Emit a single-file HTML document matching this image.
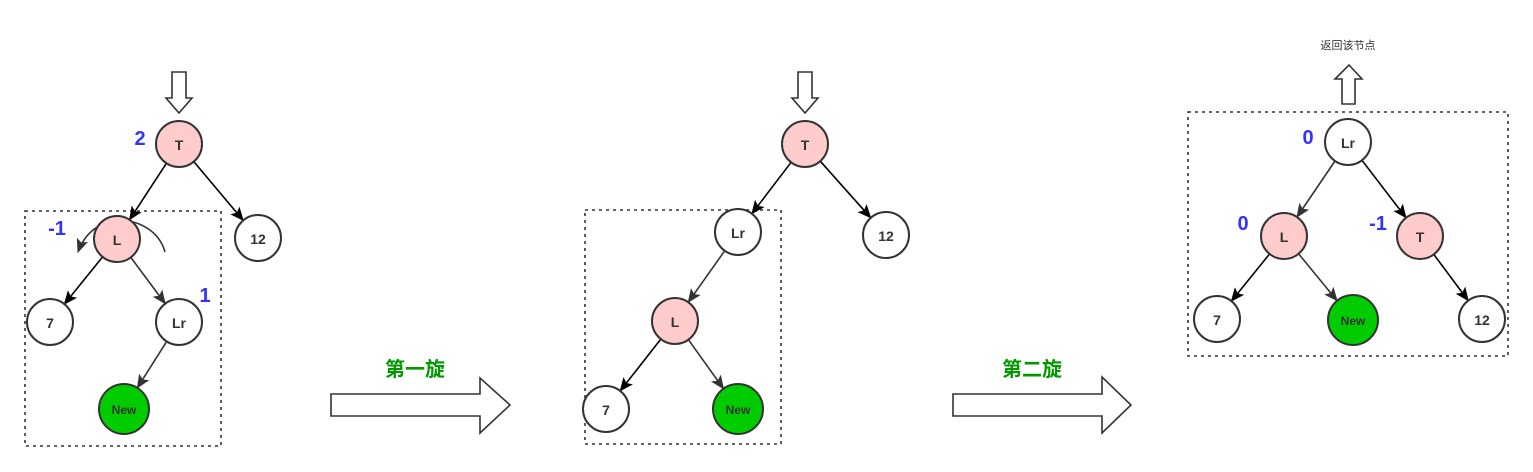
<!DOCTYPE html>
<html><head><meta charset="utf-8"><style>
html,body{margin:0;padding:0;background:#fff}
svg{display:block}
.n{stroke:#333;stroke-width:2}
.t{font-family:"Liberation Sans",sans-serif;font-weight:bold;font-size:14px;fill:#333;text-anchor:middle;dominant-baseline:central}
.b{font-family:"Liberation Sans",sans-serif;font-weight:bold;font-size:20px;fill:#3333ff;text-anchor:middle;dominant-baseline:central}
.g{font-family:"Liberation Sans","Noto Sans CJK SC",sans-serif;font-weight:bold;font-size:20px;fill:#009900;text-anchor:middle;dominant-baseline:central}
.e{stroke:#000;stroke-width:1.6;fill:none}
.e2{stroke:#333;stroke-width:1.6;fill:none}
.box{fill:none;stroke:#333;stroke-width:1.6;stroke-dasharray:3 4}
</style></head><body>
<svg width="1533" height="472" viewBox="0 0 1533 472">
<defs>
<marker id="a" markerWidth="14" markerHeight="12" refX="13" refY="6" orient="auto" markerUnits="userSpaceOnUse"><path d="M0,0 L14,6 L0,12 L3,6 z" fill="#000"/></marker>
<marker id="b" markerWidth="14" markerHeight="12" refX="13" refY="6" orient="auto" markerUnits="userSpaceOnUse"><path d="M0,0 L14,6 L0,12 L3,6 z" fill="#333"/></marker>
</defs>
<!-- Panel 1 -->
<rect class="box" x="25" y="211" width="196" height="235"/>
<path d="M172,72 h14 v26 h6 l-13,15 l-13,-15 h6 z" fill="#fff" stroke="#333" stroke-width="1.6"/>
<line class="e" x1="166.4" y1="163.3" x2="129.6" y2="219.7" marker-end="url(#a)"/>
<line class="e" x1="193.8" y1="161.6" x2="243.2" y2="220.4" marker-end="url(#a)"/>
<line class="e" x1="102.6" y1="256.9" x2="64.4" y2="304.1" marker-end="url(#a)"/>
<line class="e2" x1="130.8" y1="257.4" x2="165.2" y2="303.6" marker-end="url(#b)"/>
<line class="e2" x1="166.7" y1="341.4" x2="137.3" y2="387.9" marker-end="url(#b)"/>
<path d="M165,252 C155,215 95,205 78,252" class="e2" marker-end="url(#b)"/>
<circle class="n" cx="179" cy="144" r="23" fill="#ffcccc"/><text class="t" x="179" y="145">T</text>
<circle class="n" cx="258" cy="238" r="23" fill="#fff"/><text class="t" x="258" y="239">12</text>
<circle class="n" cx="117" cy="239" r="23" fill="#ffcccc"/><text class="t" x="117" y="240">L</text>
<circle class="n" cx="50" cy="322" r="23" fill="#fff"/><text class="t" x="50" y="323">7</text>
<circle class="n" cx="179" cy="322" r="23" fill="#fff"/><text class="t" x="179" y="323">Lr</text>
<circle class="n" cx="124" cy="409" r="25" fill="#00cc00"/><text class="t" x="124" y="410" style="font-size:12px">New</text>
<text class="b" x="140" y="139">2</text>
<text class="b" x="57" y="229">-1</text>
<text class="b" x="205" y="296">1</text>
<!-- arrow 1 -->
<text class="g" x="415" y="370">第一旋</text>
<path d="M331,394 H480 V378 L510,405 L480,433 V416 H331 z" fill="#fff" stroke="#333" stroke-width="1.6"/>
<!-- Panel 2 -->
<rect class="box" x="585" y="210" width="196" height="234"/>
<path d="M798,72 h14 v26 h6 l-13,15 l-13,-15 h6 z" fill="#fff" stroke="#333" stroke-width="1.6"/>
<line class="e" x1="791.1" y1="162.3" x2="751.9" y2="213.7" marker-end="url(#a)"/>
<line class="e" x1="820.3" y1="161.2" x2="870.7" y2="217.8" marker-end="url(#a)"/>
<line class="e2" x1="724.7" y1="250.8" x2="688.3" y2="302.2" marker-end="url(#b)"/>
<line class="e" x1="660.8" y1="339.1" x2="620.2" y2="390.9" marker-end="url(#a)"/>
<line class="e2" x1="688.4" y1="339.7" x2="723.5" y2="388.7" marker-end="url(#b)"/>
<circle class="n" cx="805" cy="144" r="23" fill="#ffcccc"/><text class="t" x="805" y="145">T</text>
<circle class="n" cx="886" cy="235" r="23" fill="#fff"/><text class="t" x="886" y="236">12</text>
<circle class="n" cx="738" cy="232" r="23" fill="#fff"/><text class="t" x="738" y="233">Lr</text>
<circle class="n" cx="675" cy="321" r="23" fill="#ffcccc"/><text class="t" x="675" y="322">L</text>
<circle class="n" cx="606" cy="409" r="23" fill="#fff"/><text class="t" x="606" y="410">7</text>
<circle class="n" cx="738" cy="409" r="25" fill="#00cc00"/><text class="t" x="738" y="410" style="font-size:12px">New</text>
<!-- arrow 2 -->
<text class="g" x="1032" y="370">第二旋</text>
<path d="M953,394 H1102 V377 L1131,405 L1102,433 V416 H953 z" fill="#fff" stroke="#333" stroke-width="1.6"/>
<!-- Panel 3 -->
<rect class="box" x="1188" y="112" width="320" height="244"/>
<text x="1348" y="46" style="font-family:'Liberation Sans','Noto Sans CJK SC',sans-serif;font-size:11px;fill:#333;text-anchor:middle;dominant-baseline:central">返回该节点</text>
<path d="M1342,104 v-25 h-7 l14,-14 l13,14 h-7 v25 z" fill="#fff" stroke="#333" stroke-width="1.6"/>
<line class="e2" x1="1335" y1="161" x2="1297" y2="217" marker-end="url(#b)"/>
<line class="e" x1="1362" y1="160.3" x2="1406" y2="217.7" marker-end="url(#a)"/>
<line class="e" x1="1269.6" y1="253.9" x2="1231.4" y2="301.1" marker-end="url(#a)"/>
<line class="e2" x1="1298.6" y1="253.8" x2="1337.1" y2="300.7" marker-end="url(#b)"/>
<line class="e" x1="1433.8" y1="254.4" x2="1468.2" y2="300.6" marker-end="url(#a)"/>
<circle class="n" cx="1348" cy="142" r="23" fill="#fff"/><text class="t" x="1348" y="143">Lr</text>
<circle class="n" cx="1284" cy="236" r="23" fill="#ffcccc"/><text class="t" x="1284" y="237">L</text>
<circle class="n" cx="1420" cy="236" r="23" fill="#ffcccc"/><text class="t" x="1420" y="237">T</text>
<circle class="n" cx="1217" cy="319" r="23" fill="#fff"/><text class="t" x="1217" y="320">7</text>
<circle class="n" cx="1353" cy="320" r="25" fill="#00cc00"/><text class="t" x="1353" y="321" style="font-size:12px">New</text>
<circle class="n" cx="1482" cy="319" r="23" fill="#fff"/><text class="t" x="1482" y="320">12</text>
<text class="b" x="1308" y="138">0</text>
<text class="b" x="1243" y="224">0</text>
<text class="b" x="1378" y="224">-1</text>
</svg>
</body></html>
